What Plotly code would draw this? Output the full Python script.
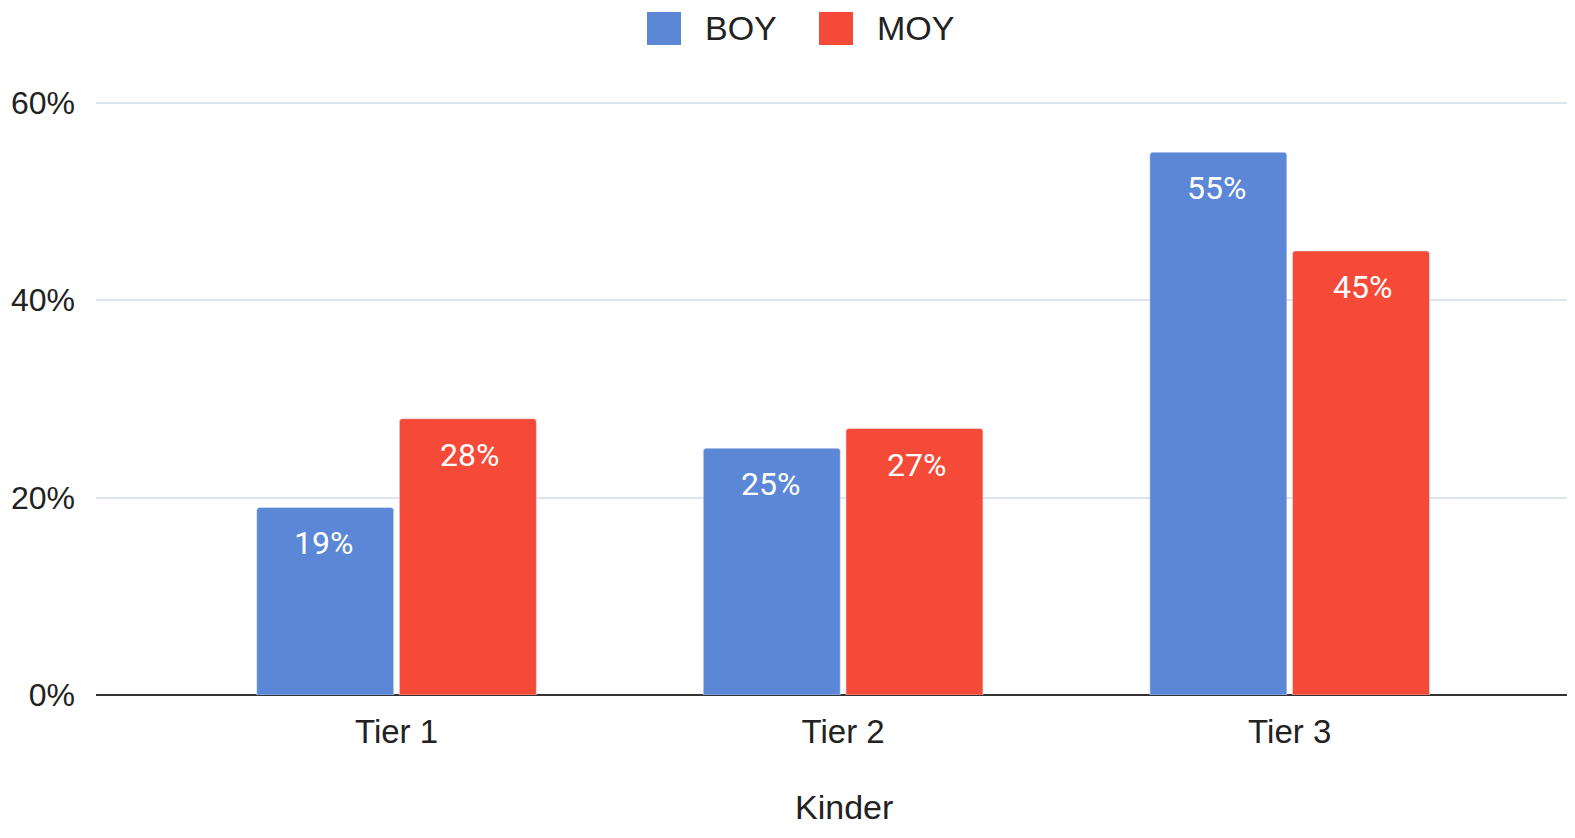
import plotly.graph_objects as go

tiers = ['Tier 1', 'Tier 2', 'Tier 3']
boy = [19, 25, 55]
moy = [28, 27, 45]
y_ticks = [0, 20, 40, 60]
y_tick_labels = ['0%', '20%', '40%', '60%']

BLUE = '#5b87d6'
RED = '#f64a39'

# the page body keeps its default 8px margin, so the figure is drawn 8px smaller
PAD = 8
W, H = 1575 - 2 * PAD, 838 - 2 * PAD
L, R, T, B = 88, 0, 85, 135


def px_x(px):
    # page pixel -> paper fraction
    return (px - PAD - L) / (W - L - R)


def px_y(py):
    return (H - B - (py - PAD)) / (H - T - B)


fig = go.Figure()
fig.add_trace(go.Bar(name='BOY', x=tiers, y=boy, marker=dict(color=BLUE, cornerradius=3),
                     hoverinfo='skip', showlegend=False))
fig.add_trace(go.Bar(name='MOY', x=tiers, y=moy, marker=dict(color=RED, cornerradius=3),
                     hoverinfo='skip', showlegend=False))

# value labels sitting just under each bar top
for series, shift in ((boy, -73), (moy, 73)):
    for t, v in zip(tiers, series):
        fig.add_annotation(x=t, y=v, text='%d%%' % v, showarrow=False,
                           xshift=shift, yshift=-15, yanchor='top',
                           font=dict(family='Roboto', size=32, color='white'))

# legend drawn by hand so the swatches can be large
for name, col, x0 in (('BOY', BLUE, 647), ('MOY', RED, 819)):
    fig.add_shape(type='rect', xref='paper', yref='paper',
                  x0=px_x(x0), x1=px_x(x0 + 34), y0=px_y(12), y1=px_y(45),
                  fillcolor=col, line=dict(width=0), layer='above')
    fig.add_annotation(xref='paper', yref='paper', x=px_x(x0 + 56), y=px_y(28.5),
                       text=name, showarrow=False, xanchor='left', yanchor='middle',
                       font=dict(size=34, color='#222'))

# x axis title (kept inside the bottom edge)
fig.add_annotation(xref='paper', yref='paper', x=px_x(844), y=px_y(807),
                   text='Kinder', showarrow=False, xanchor='center', yanchor='middle',
                   font=dict(size=34, color='#222'))

fig.update_layout(
    width=W, height=H,
    plot_bgcolor='white', paper_bgcolor='white',
    barmode='group', bargap=0.361, bargroupgap=0.04,
    margin=dict(l=L, r=R, t=T, b=B),
    font=dict(family='Liberation Sans, Arial', size=33, color='#222'),
    showlegend=False,
    xaxis=dict(range=[-0.673, 2.621], showgrid=False, ticks='', automargin=False,
               showline=False, ticklabelstandoff=14),
    yaxis=dict(range=[0, 61], tickvals=y_ticks, ticktext=y_tick_labels,
               tickfont=dict(size=32),
               gridcolor='#dde3ec', gridwidth=1.5, zeroline=True, automargin=False,
               zerolinecolor='#333', zerolinewidth=2, ticks='',
               ticklabelstandoff=20),
)

fig.write_html('out.html')
